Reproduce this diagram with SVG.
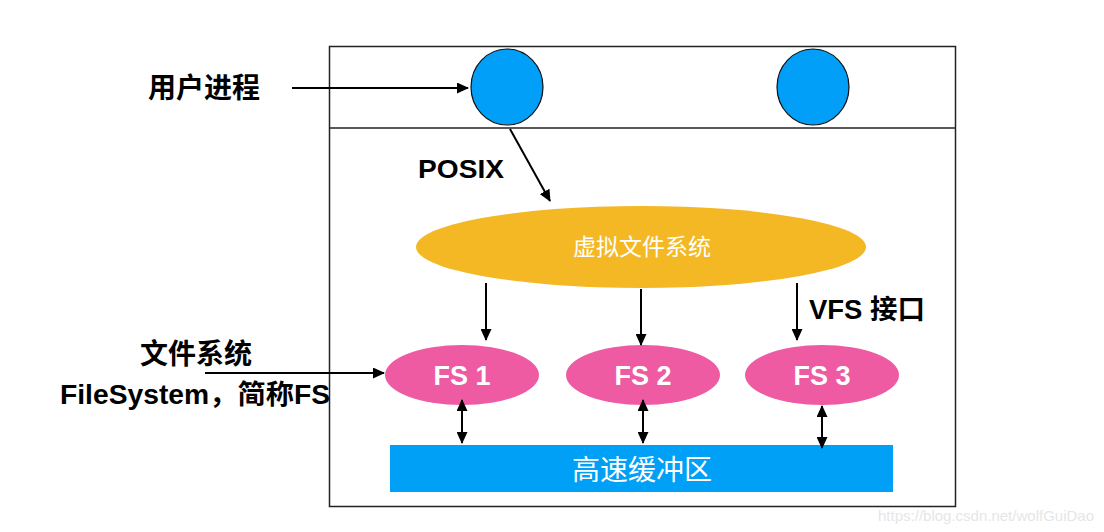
<svg xmlns="http://www.w3.org/2000/svg" width="1104" height="532" viewBox="0 0 1104 532">
<style>
.lbl{font-family:"Liberation Sans","Noto Sans CJK SC",sans-serif;font-weight:bold;fill:#000}
.wt{font-family:"Liberation Sans","Noto Sans CJK SC",sans-serif;fill:#fff}
.ln{stroke:#000;stroke-width:2;fill:none}
</style>
<defs>
<marker id="ah" markerWidth="12" markerHeight="11" refX="11" refY="5.5" orient="auto" markerUnits="userSpaceOnUse" viewBox="0 0 12 11"><path d="M0,0 L12,5.5 L0,11 z" fill="#000"/></marker>
<marker id="as" markerWidth="12" markerHeight="11" refX="1" refY="5.5" orient="auto" markerUnits="userSpaceOnUse" viewBox="0 0 12 11"><path d="M12,0 L0,5.5 L12,11 z" fill="#000"/></marker>
</defs>
<rect width="1104" height="532" fill="#fff"/>
<g id="frame">
<rect x="329.5" y="46.5" width="626" height="460" fill="none" stroke="#222" stroke-width="1.5"/>
<line x1="329" y1="128" x2="955" y2="128" stroke="#222" stroke-width="1.5"/>
</g>
<g id="proc1"><ellipse cx="507" cy="87" rx="36" ry="38" fill="#019FF8" stroke="#111" stroke-width="1.2"/></g>
<g id="proc2"><ellipse cx="813" cy="87" rx="36" ry="38" fill="#019FF8" stroke="#111" stroke-width="1.2"/></g>
<g id="label-user"><text class="lbl" x="204" y="98" font-size="28" text-anchor="middle">用户进程</text></g>
<g id="label-posix"><text class="lbl" x="418" y="178" font-size="26.5" textLength="86" lengthAdjust="spacingAndGlyphs">POSIX</text></g>
<g id="vfs"><ellipse cx="641" cy="247" rx="225" ry="41" fill="#F4B824"/><text class="wt" x="642" y="255" font-size="23" text-anchor="middle">虚拟文件系统</text></g>
<g id="label-vfs"><text class="lbl" x="809" y="319" font-size="27" textLength="116" lengthAdjust="spacingAndGlyphs">VFS 接口</text></g>
<g id="fs1"><ellipse cx="462" cy="375" rx="77" ry="30" fill="#EE5BA2"/><text class="wt" x="462" y="385" font-size="27" font-weight="bold" text-anchor="middle">FS 1</text></g>
<g id="fs2"><ellipse cx="643" cy="375" rx="77" ry="30" fill="#EE5BA2"/><text class="wt" x="643" y="385" font-size="27" font-weight="bold" text-anchor="middle">FS 2</text></g>
<g id="fs3"><ellipse cx="822" cy="375" rx="77" ry="30" fill="#EE5BA2"/><text class="wt" x="822" y="385" font-size="27" font-weight="bold" text-anchor="middle">FS 3</text></g>
<g id="cache"><rect x="390" y="445" width="503" height="47" fill="#00A0F6"/><text class="wt" x="642" y="480" font-size="28" text-anchor="middle">高速缓冲区</text></g>
<g id="label-fs">
<text class="lbl" x="196" y="364" font-size="28" text-anchor="middle">文件系统</text>
<text class="lbl" x="60" y="404" font-size="27" textLength="270" lengthAdjust="spacingAndGlyphs">FileSystem，简称FS</text>
</g>
<g id="connectors">
<line class="ln" x1="292" y1="88" x2="468" y2="88" marker-end="url(#ah)"/>
<line class="ln" x1="510" y1="129" x2="550" y2="201" marker-end="url(#ah)"/>
<line class="ln" x1="486" y1="283" x2="486" y2="340" marker-end="url(#ah)"/>
<line class="ln" x1="641" y1="289" x2="641" y2="345" marker-end="url(#ah)"/>
<line class="ln" x1="797" y1="283" x2="797" y2="340" marker-end="url(#ah)"/>
<line class="ln" x1="205" y1="373" x2="384" y2="373" marker-end="url(#ah)"/>
<line class="ln" x1="462" y1="400" x2="462" y2="443" marker-start="url(#as)" marker-end="url(#ah)"/>
<line class="ln" x1="643" y1="400" x2="643" y2="443" marker-start="url(#as)" marker-end="url(#ah)"/>
<line class="ln" x1="822" y1="406" x2="822" y2="448" marker-start="url(#as)" marker-end="url(#ah)"/>
</g>
<text x="1094" y="521" font-family="Liberation Sans,sans-serif" font-size="15" fill="#e6e6e6" text-anchor="end">https://blog.csdn.net/wolfGuiDao</text>
</svg>
